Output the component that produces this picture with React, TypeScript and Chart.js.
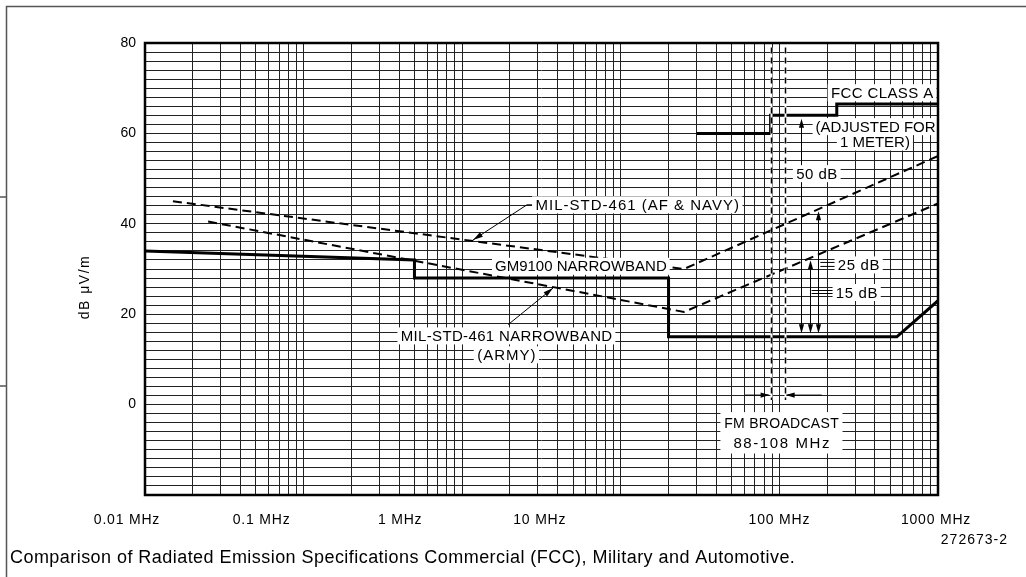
import React, { useEffect, useRef } from 'react';
import { Chart, registerables } from 'chart.js';

Chart.register(...registerables);

const FONT = "'Liberation Sans', Arial, sans-serif";

// Frequency axis (MHz, log) decade labels and level axis (dB µV/m) labels
const decadeFreqs = [0.01, 0.1, 1, 10, 100, 1000];
const decadeLabels = ['0.01 MHz', '0.1 MHz', '1 MHz', '10 MHz', '100 MHz', '1000 MHz'];
const levelLabelValues = [0, 20, 40, 60, 80];

// GM9100 narrowband limit
const gmFreq = [0.01, 0.5, 0.5, 20, 20, 550, 1000];
const gmLevel = [34, 32, 28, 28, 15, 15, 23];

// FCC Class A, adjusted to 1 meter
const fccFreq = [30, 88, 88, 230, 230, 1000];
const fccLevel = [60, 60, 64, 64, 66.5, 66.5];

// MIL-STD-461 (AF & Navy)
const afNavyFreq = [0.015, 25, 1000];
const afNavyLevel = [45, 30, 55];

// MIL-STD-461 narrowband (Army)
const armyFreq = [0.025, 25, 1000];
const armyLevel = [40.5, 20.5, 44.5];

// FM broadcast band edges (MHz)
const fmBand = [88, 108];

// gridlines: 1..9 per decade, every 2 dB
const gridFreqs: number[] = [];
for (let k = -2; k <= 2; k++) {
  for (let m = 1; m <= 9; m++) gridFreqs.push(Number((m * Math.pow(10, k)).toPrecision(6)));
}
gridFreqs.push(1000);
const gridLevels: number[] = [];
for (let v = -20; v <= 80; v += 2) gridLevels.push(v);

const toPoints = (fs: number[], ls: number[]) => fs.map((f, i) => ({ x: f, y: ls[i] }));

// level of a piecewise (log-frequency) line at frequency f
function levelAt(fs: number[], ls: number[], f: number): number {
  for (let i = fs.length - 2; i >= 0; i--) {
    const a = fs[i], b = fs[i + 1];
    if (f >= a && f <= b && b > a) {
      const t = (Math.log10(f) - Math.log10(a)) / (Math.log10(b) - Math.log10(a));
      return ls[i] + t * (ls[i + 1] - ls[i]);
    }
  }
  return ls[ls.length - 1];
}

// callout text placement (frequency, level), font size and letter spacing
const callouts = [
  { text: 'FCC CLASS A', f: 444, level: 69.0, ls: 0.4 },
  { text: '(ADJUSTED FOR', f: 404, level: 61.5, ls: 0 },
  { text: '1 METER)', f: 400, level: 58.1, ls: 0 },
  { text: '50 dB', f: 172, level: 51.1, ls: 0.5 },
  { text: '25 dB', f: 316, level: 30.9, ls: 0.6 },
  { text: '15 dB', f: 307, level: 24.8, ls: 0.6 },
  { text: 'MIL-STD-461 (AF & NAVY)', f: 12.7, level: 44.2, ls: 1 },
  { text: 'GM9100 NARROWBAND', f: 5.6, level: 30.6, ls: 0 },
  { text: 'MIL-STD-461 NARROWBAND', f: 1.9, level: 15.2, ls: 0.35 },
  { text: '(ARMY)', f: 1.9, level: 11.0, ls: 1 },
  { text: 'FM BROADCAST', f: 103, level: -4.1, ls: 0.3, size: 14, boxW: 122, boxH: 22 },
  { text: '88-108 MHz', f: 103, level: -8.4, ls: 1.6, boxW: 122, boxH: 22 },
];

// dimension arrows between limit lines
const dimArrows = [
  { f: 137, top: [fccFreq, fccLevel], bottom: [gmFreq, gmLevel], topGap: 3.5 },
  { f: 176, top: [afNavyFreq, afNavyLevel], bottom: [gmFreq, gmLevel], topGap: 2 },
  { f: 155, top: [armyFreq, armyLevel], bottom: [gmFreq, gmLevel], topGap: 2 },
];

// decade label horizontal shift (px)
const decadeLabelShift = [-18, -42, -62, -81, 0, -2];

function arrowHead(ctx: CanvasRenderingContext2D, x: number, y: number, dx: number, dy: number, len = 9, half = 2.6) {
  const L = Math.hypot(dx, dy);
  const ux = dx / L, uy = dy / L;
  const bx = x - ux * len, by = y - uy * len;
  ctx.beginPath();
  ctx.moveTo(x, y);
  ctx.lineTo(bx - uy * half, by + ux * half);
  ctx.lineTo(bx + uy * half, by - ux * half);
  ctx.closePath();
  ctx.fill();
}

const annotationPlugin = {
  id: 'emissionAnnotations',
  afterDatasetsDraw(chart: any) {
    const ctx: CanvasRenderingContext2D = chart.ctx;
    const xs = chart.scales.x, ys = chart.scales.y;
    const area = chart.chartArea;
    const X = (f: number) => xs.getPixelForValue(f);
    const Y = (v: number) => ys.getPixelForValue(v);
    ctx.save();
    ctx.fillStyle = '#000';
    ctx.strokeStyle = '#000';

    // FM band edges
    fmBand.forEach((f) => {
      const x = Math.round(X(f)) + 0.5;
      ctx.setLineDash([]);
      ctx.strokeStyle = '#fff';
      ctx.lineWidth = 2;
      ctx.beginPath(); ctx.moveTo(x, Y(79)); ctx.lineTo(x, Y(1)); ctx.stroke();
      ctx.strokeStyle = '#000';
      ctx.lineWidth = 1.5;
      ctx.setLineDash([6, 4]);
      ctx.beginPath(); ctx.moveTo(x, Y(79)); ctx.lineTo(x, Y(1)); ctx.stroke();
    });
    ctx.setLineDash([]);
    ctx.lineWidth = 1;
    // band arrows
    {
      const yA = Y(2.1);
      const x0 = X(fmBand[0]), x1 = X(fmBand[1]);
      const xl = X(60.7), xr = X(185);
      ctx.beginPath(); ctx.moveTo(xl, yA); ctx.lineTo(x0 - 2, yA); ctx.stroke();
      arrowHead(ctx, x0 - 1, yA, 1, 0);
      ctx.beginPath(); ctx.moveTo(xr, yA); ctx.lineTo(x1 + 2, yA); ctx.stroke();
      arrowHead(ctx, x1 + 1, yA, -1, 0);
    }

    // dimension arrows
    dimArrows.forEach((d) => {
      const x = Math.round(X(d.f)) + 0.5;
      const yt = Y(levelAt(d.top[0], d.top[1], d.f)) + d.topGap;
      const yb = Y(levelAt(d.bottom[0], d.bottom[1], d.f)) - 3.5;
      ctx.beginPath(); ctx.moveTo(x, yt + 4); ctx.lineTo(x, yb - 4); ctx.stroke();
      arrowHead(ctx, x, yt, 0, -1);
      arrowHead(ctx, x, yb, 0, 1);
    });
    // dimension leaders for 25 dB and 15 dB
    {
      const x25 = X(176), x15 = X(155), xe = X(316) - 23;
      const y25 = Y(30.9);
      ctx.beginPath();
      ctx.moveTo(x25 + 2, y25 - 2.5); ctx.lineTo(xe, y25 - 2.5);
      ctx.moveTo(x25 + 2, y25 + 1.5); ctx.lineTo(xe, y25 + 1.5);
      const y15 = Y(24.8);
      ctx.moveTo(x15 + 2, y15 - 2); ctx.lineTo(xe - 2, y15 - 2);
      ctx.moveTo(x15 + 2, y15 + 1); ctx.lineTo(xe - 2, y15 + 1);
      ctx.stroke();
    }

    // leader arrows to the MIL-STD curves
    {
      const sx = X(2.56), sy = Y(44.2);
      const tf = 1.17;
      const tx = X(tf), ty = Y(levelAt(afNavyFreq, afNavyLevel, tf)) - 1;
      ctx.beginPath(); ctx.moveTo(sx + 8, sy); ctx.lineTo(sx, sy); ctx.lineTo(tx, ty); ctx.stroke();
      arrowHead(ctx, tx, ty, tx - sx, ty - sy, 10, 2.6);

      const ax = X(1.95), ay = Y(17.7);
      const af = 3.74;
      const bx = X(af), by = Y(levelAt(armyFreq, armyLevel, af)) + 1;
      ctx.beginPath(); ctx.moveTo(ax, ay); ctx.lineTo(bx, by); ctx.stroke();
      arrowHead(ctx, bx, by, bx - ax, by - ay, 10, 2.6);
    }

    // callout texts on white boxes
    ctx.textBaseline = 'middle';
    ctx.textAlign = 'center';
    callouts.forEach((c: any) => {
      ctx.font = `${c.size || 15}px ${FONT}`;
      (ctx as any).letterSpacing = `${c.ls}px`;
      const cx = X(c.f), cy = Y(c.level);
      const w = ctx.measureText(c.text).width;
      const bw = c.boxW || w + 6;
      const bh = c.boxH || 17;
      ctx.fillStyle = '#fff';
      ctx.fillRect(cx - bw / 2, cy - bh / 2, bw, bh);
      ctx.fillStyle = '#000';
      ctx.fillText(c.text, cx + c.ls / 2, cy + 1);
    });

    // plot frame
    ctx.strokeStyle = '#000';
    ctx.lineWidth = 2.5;
    ctx.strokeRect(area.left, area.top, area.right - area.left, area.bottom - area.top);

    // decade labels
    ctx.font = `14px ${FONT}`;
    (ctx as any).letterSpacing = '0.8px';
    ctx.textAlign = 'center';
    decadeFreqs.forEach((f, i) => {
      ctx.fillText(decadeLabels[i], X(f) + decadeLabelShift[i], area.bottom + 25);
    });

    // figure number
    ctx.textAlign = 'right';
    (ctx as any).letterSpacing = '1px';
    ctx.fillText('272673-2', 1008, area.bottom + 45);

    // caption
    ctx.textAlign = 'left';
    ctx.font = `18px ${FONT}`;
    (ctx as any).letterSpacing = '0.45px';
    ctx.fillText('Comparison of Radiated Emission Specifications Commercial (FCC), Military and Automotive.', 10, 558);

    // level axis title
    ctx.save();
    ctx.translate(85, 287);
    ctx.rotate(-Math.PI / 2);
    ctx.textAlign = 'center';
    ctx.font = `14px ${FONT}`;
    (ctx as any).letterSpacing = '1.5px';
    ctx.fillText('dB \u03BCV/m', 0, 0);
    ctx.restore();

    // sheet border
    ctx.strokeStyle = '#555';
    ctx.lineWidth = 1.5;
    ctx.beginPath();
    ctx.moveTo(6.5, 577); ctx.lineTo(6.5, 6.5); ctx.lineTo(1026, 6.5);
    ctx.moveTo(0, 197); ctx.lineTo(6.5, 197);
    ctx.moveTo(0, 386); ctx.lineTo(6.5, 386);
    ctx.stroke();

    ctx.restore();
  },
};

export default function App() {
  const canvasRef = useRef<HTMLCanvasElement | null>(null);

  useEffect(() => {
    const canvas = canvasRef.current;
    if (!canvas) return;
    const solid = (label: string, data: any[]) => ({
      label, data, borderColor: '#000', borderWidth: 3, pointRadius: 0, tension: 0, fill: false,
      borderJoinStyle: 'miter',
    });
    const dashed = (label: string, data: any[]) => ({
      label, data, borderColor: '#000', borderWidth: 2, pointRadius: 0, tension: 0, fill: false,
      borderDash: [9, 5],
    });
    const chart = new Chart(canvas, {
      type: 'line',
      data: {
        datasets: [
          solid('GM9100 NARROWBAND', toPoints(gmFreq, gmLevel)),
          solid('FCC CLASS A', toPoints(fccFreq, fccLevel)),
          dashed('MIL-STD-461 (AF & NAVY)', toPoints(afNavyFreq, afNavyLevel)),
          dashed('MIL-STD-461 NARROWBAND (ARMY)', toPoints(armyFreq, armyLevel)),
        ] as any,
      },
      options: {
        responsive: false,
        animation: false,
        devicePixelRatio: 1,
        layout: { padding: { top: 43, right: 88, left: 0, bottom: 0 } },
        plugins: { legend: { display: false }, tooltip: { enabled: false } },
        scales: {
          x: {
            type: 'logarithmic',
            min: 0.01,
            max: 1000,
            afterBuildTicks: (s: any) => { s.ticks = gridFreqs.map((v) => ({ value: v })); },
            afterFit: (s: any) => { s.height = 82; },
            ticks: { display: false },
            grid: { color: '#222', lineWidth: 1, drawTicks: false },
            border: { display: false },
          },
          y: {
            type: 'linear',
            min: -20,
            max: 80,
            afterBuildTicks: (s: any) => { s.ticks = gridLevels.map((v) => ({ value: v })); },
            afterFit: (s: any) => { s.width = 145; },
            ticks: {
              autoSkip: false,
              padding: 9,
              color: '#000',
              font: { family: FONT, size: 14 },
              callback: (v: any) => (levelLabelValues.includes(Number(v)) ? String(v) : ''),
            },
            grid: { color: '#222', lineWidth: 1, drawTicks: false },
            border: { display: false },
          },
        },
      } as any,
      plugins: [annotationPlugin],
    });
    return () => chart.destroy();
  }, []);

  return (
    <div style={{ position: 'absolute', left: 0, top: 0, width: 1026, height: 577, background: '#fff' }}>
      <canvas ref={canvasRef} width={1026} height={577} style={{ display: 'block' }} />
    </div>
  );
}
